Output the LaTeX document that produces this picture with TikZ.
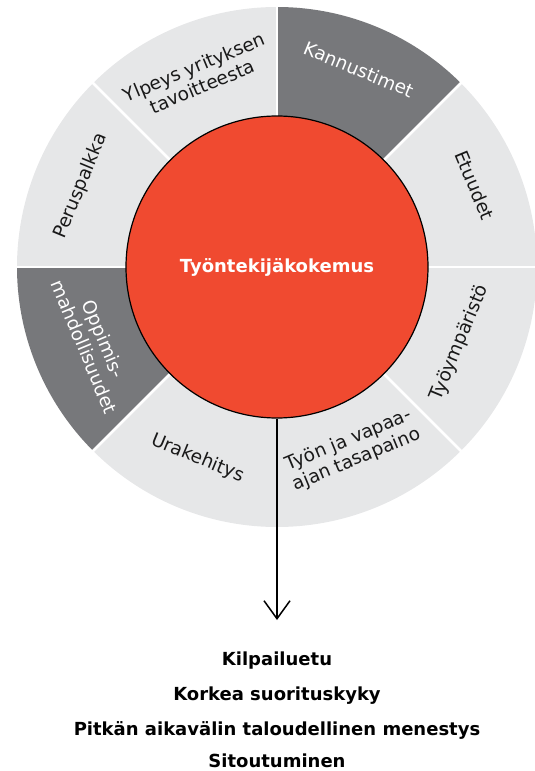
\documentclass[tikz,border=0pt]{standalone}
\usepackage{fontspec}
\setmainfont{DejaVu Sans}
\usetikzlibrary{arrows.meta}

\definecolor{ringlight}{RGB}{230,231,232}
\definecolor{ringdark}{RGB}{119,120,123}
\definecolor{hubred}{RGB}{240,74,48}

\tikzset{
  seglabel/.style={font=\fontsize{18.5}{21}\selectfont, align=center, text=black!90, inner sep=0pt},
  darklabel/.style={seglabel, text=white},
  result/.style={font=\bfseries\fontsize{18}{20}\selectfont, inner sep=0pt, anchor=base},
}

\begin{document}
\begin{tikzpicture}[x=1pt,y=1pt]
      \useasboundingbox (-277,-504) rectangle (258,267);
      \clip (-277,-504) rectangle (258,267);

      % ring of eight sectors
      \foreach \a/\c in {0/ringlight,45/ringdark,90/ringlight,135/ringlight,
                         180/ringdark,225/ringlight,270/ringlight,315/ringlight}
        \fill [\c] (0,0) -- (\a:260) arc [start angle=\a, end angle=\a+45, radius=260] -- cycle;
      \foreach \a in {0,45,...,315}
        \draw [white, line width=2.5pt] (0,0) -- (\a:265);

      \node [circle, fill=hubred, draw=black, line width=1.2pt, minimum size=302pt, inner sep=0pt,
             text=white, font=\bfseries\fontsize{18}{20}\selectfont] (hub) at (0,0) {Työntekijäkokemus};

      \node [seglabel, rotate=-67.5] (etuudet) at (22.5:214) {Etuudet};
      \node [darklabel, rotate=-22.5] (kannustimet) at (67.5:214) {Kannustimet};
      \node [seglabel, rotate=22.5] (ylpeys) at (112.5:206) {Ylpeys yrityksen\\tavoitteesta};
      \node [seglabel, rotate=67.5] (peruspalkka) at (157.5:212) {Peruspalkka};
      \node [darklabel, rotate=-67.5] (oppimis) at (-157.5:198) {Oppimis-\\mahdollisuudet};
      \node [seglabel, rotate=-22.5] (urakehitys) at (-112.5:207) {Urakehitys};
      \node [seglabel, rotate=22.5] (tasapaino) at (-67.5:198) {Työn ja vapaa-\\ajan tasapaino};
      \node [seglabel, rotate=67.5] (tyoymparisto) at (-22.5:198) {Työympäristö};

      \coordinate (tip) at (0,-353);
      \draw [line width=1.5pt, -{Straight Barb[length=18pt,width=26pt]}] (hub.south) -- (tip);

      \node [result] (kilpailuetu) at (0,-398) {Kilpailuetu};
      \node [result] (suorituskyky) at (0,-433) {Korkea suorituskyky};
      \node [result] (menestys) at (0,-468) {Pitkän aikavälin taloudellinen menestys};
      \node [result] (sitoutuminen) at (0,-500) {Sitoutuminen};
\end{tikzpicture}
\end{document}
